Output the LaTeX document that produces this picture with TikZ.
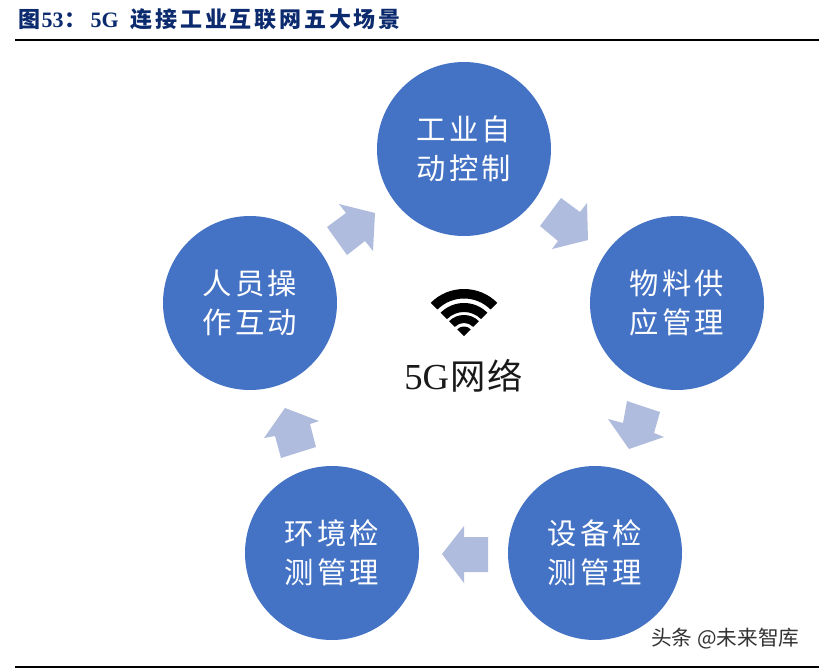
\documentclass[tikz,border=0pt]{standalone}
\usepackage{fontspec}
\setmainfont{Liberation Serif}
\newfontfamily\cjk{Noto Sans CJK SC}
\newcommand\gp[1]{\hspace{#1}}
\newcommand\wband[2]{\fill[wifi] (w) ++(135:#1) arc[start angle=135,end angle=45,radius=#1] -- ($(w)+(45:#2)$) arc[start angle=45,end angle=135,radius=#2] -- cycle;}
\definecolor{circ}{HTML}{4472C4}
\definecolor{arr}{HTML}{B0BCDE}
\definecolor{ttl}{HTML}{0C2A6E}
\usetikzlibrary{calc}
\tikzset{
 scene/.style={circle,fill=circ,draw=none,minimum size=130.5pt,inner sep=0pt,text=white,align=center,
   font=\cjk\fontsize{22}{29}\selectfont},
 blockarrow/.style={fill=arr,draw=none},
 rule/.style={draw=black,line width=1.5pt},
 wifi/.style={fill=black,draw=none},
}
\begin{document}
\begin{tikzpicture}[x=0.75pt,y=0.75pt]
\useasboundingbox[fill=white] (0,-668) rectangle (819,0);
% title
\node[anchor=west,inner sep=0pt,text=ttl,font=\cjk\bfseries\fontsize{16.5}{18}\selectfont] (title) at (18,-19)
 {图\gp{1pt}{\rmfamily\bfseries 53}\gp{1pt}：\gp{2.75pt}{\rmfamily\bfseries 5G}\gp{9pt}连\gp{2.1pt}接\gp{2.1pt}工\gp{2.1pt}业\gp{2.1pt}互\gp{2.1pt}联\gp{2.1pt}网\gp{2.1pt}五\gp{2.1pt}大\gp{2.1pt}场\gp{2.1pt}景};
\coordinate (ruleTopL) at (15,-40); \coordinate (ruleTopR) at (819,-40);
\draw[rule] (ruleTopL) -- (ruleTopR);
\coordinate (ruleBotL) at (15,-667); \coordinate (ruleBotR) at (819,-667);
\draw[rule] (ruleBotL) -- (ruleBotR);
% circles
\node[scene] (auto) at (464,-149) {工\gp{2.5pt}业\gp{2.5pt}自\\动\gp{2.5pt}控\gp{2.5pt}制};
\node[scene] (supply) at (677,-303) {物\gp{2.5pt}料\gp{2.5pt}供\\应\gp{2.5pt}管\gp{2.5pt}理};
\node[scene] (device) at (595,-553) {设\gp{2.5pt}备\gp{2.5pt}检\\测\gp{2.5pt}管\gp{2.5pt}理};
\node[scene] (env) at (332,-553) {环\gp{2.5pt}境\gp{2.5pt}检\\测\gp{2.5pt}管\gp{2.5pt}理};
\node[scene] (human) at (250,-303) {人\gp{2.5pt}员\gp{2.5pt}操\\作\gp{2.5pt}互\gp{2.5pt}动};
% block arrows
\fill[blockarrow] (375,-213) -- (339,-204) -- (346,-213) -- (327,-227) -- (347,-255) -- (365,-241) -- (373,-251) -- cycle;
\fill[blockarrow] (588,-240) -- (587,-203) -- (580,-212) -- (561,-198) -- (540,-226) -- (558,-241) -- (552,-249) -- cycle;
\fill[blockarrow] (629,-449) -- (664,-437) -- (654,-433) -- (660,-412) -- (627,-401) -- (623,-423) -- (608,-419) -- cycle;
\fill[blockarrow] (442,-554) -- (464,-583) -- (464,-572) -- (488,-572) -- (488,-537) -- (464,-537) -- (464,-526) -- cycle;
\fill[blockarrow] (285,-408) -- (264,-438) -- (275,-436) -- (281,-458) -- (316,-447) -- (310,-424) -- (319,-421) -- cycle;
% wifi
\coordinate (w) at (464,-336);
\wband{47}{37.5}
\wband{33}{24}
\wband{21}{13}
\fill[wifi] (w) -- ($(w)+(135:9.5)$) arc[start angle=135,end angle=45,radius=9.5] -- cycle;
% centre label
\node[anchor=base west,inner sep=0pt,font=\fontsize{27.5}{30}\selectfont,text=black!90] (net) at (404,-389)
 {5G{\cjk\fontsize{26.5}{30}\selectfont\gp{1pt}网\gp{1pt}络}};
% watermark
\node[anchor=base west,inner sep=0pt,text=black!80,font=\cjk\fontsize{15.5}{17}\selectfont] (mark) at (651,-645) {头条 @未来智库};
\end{tikzpicture}
\end{document}
